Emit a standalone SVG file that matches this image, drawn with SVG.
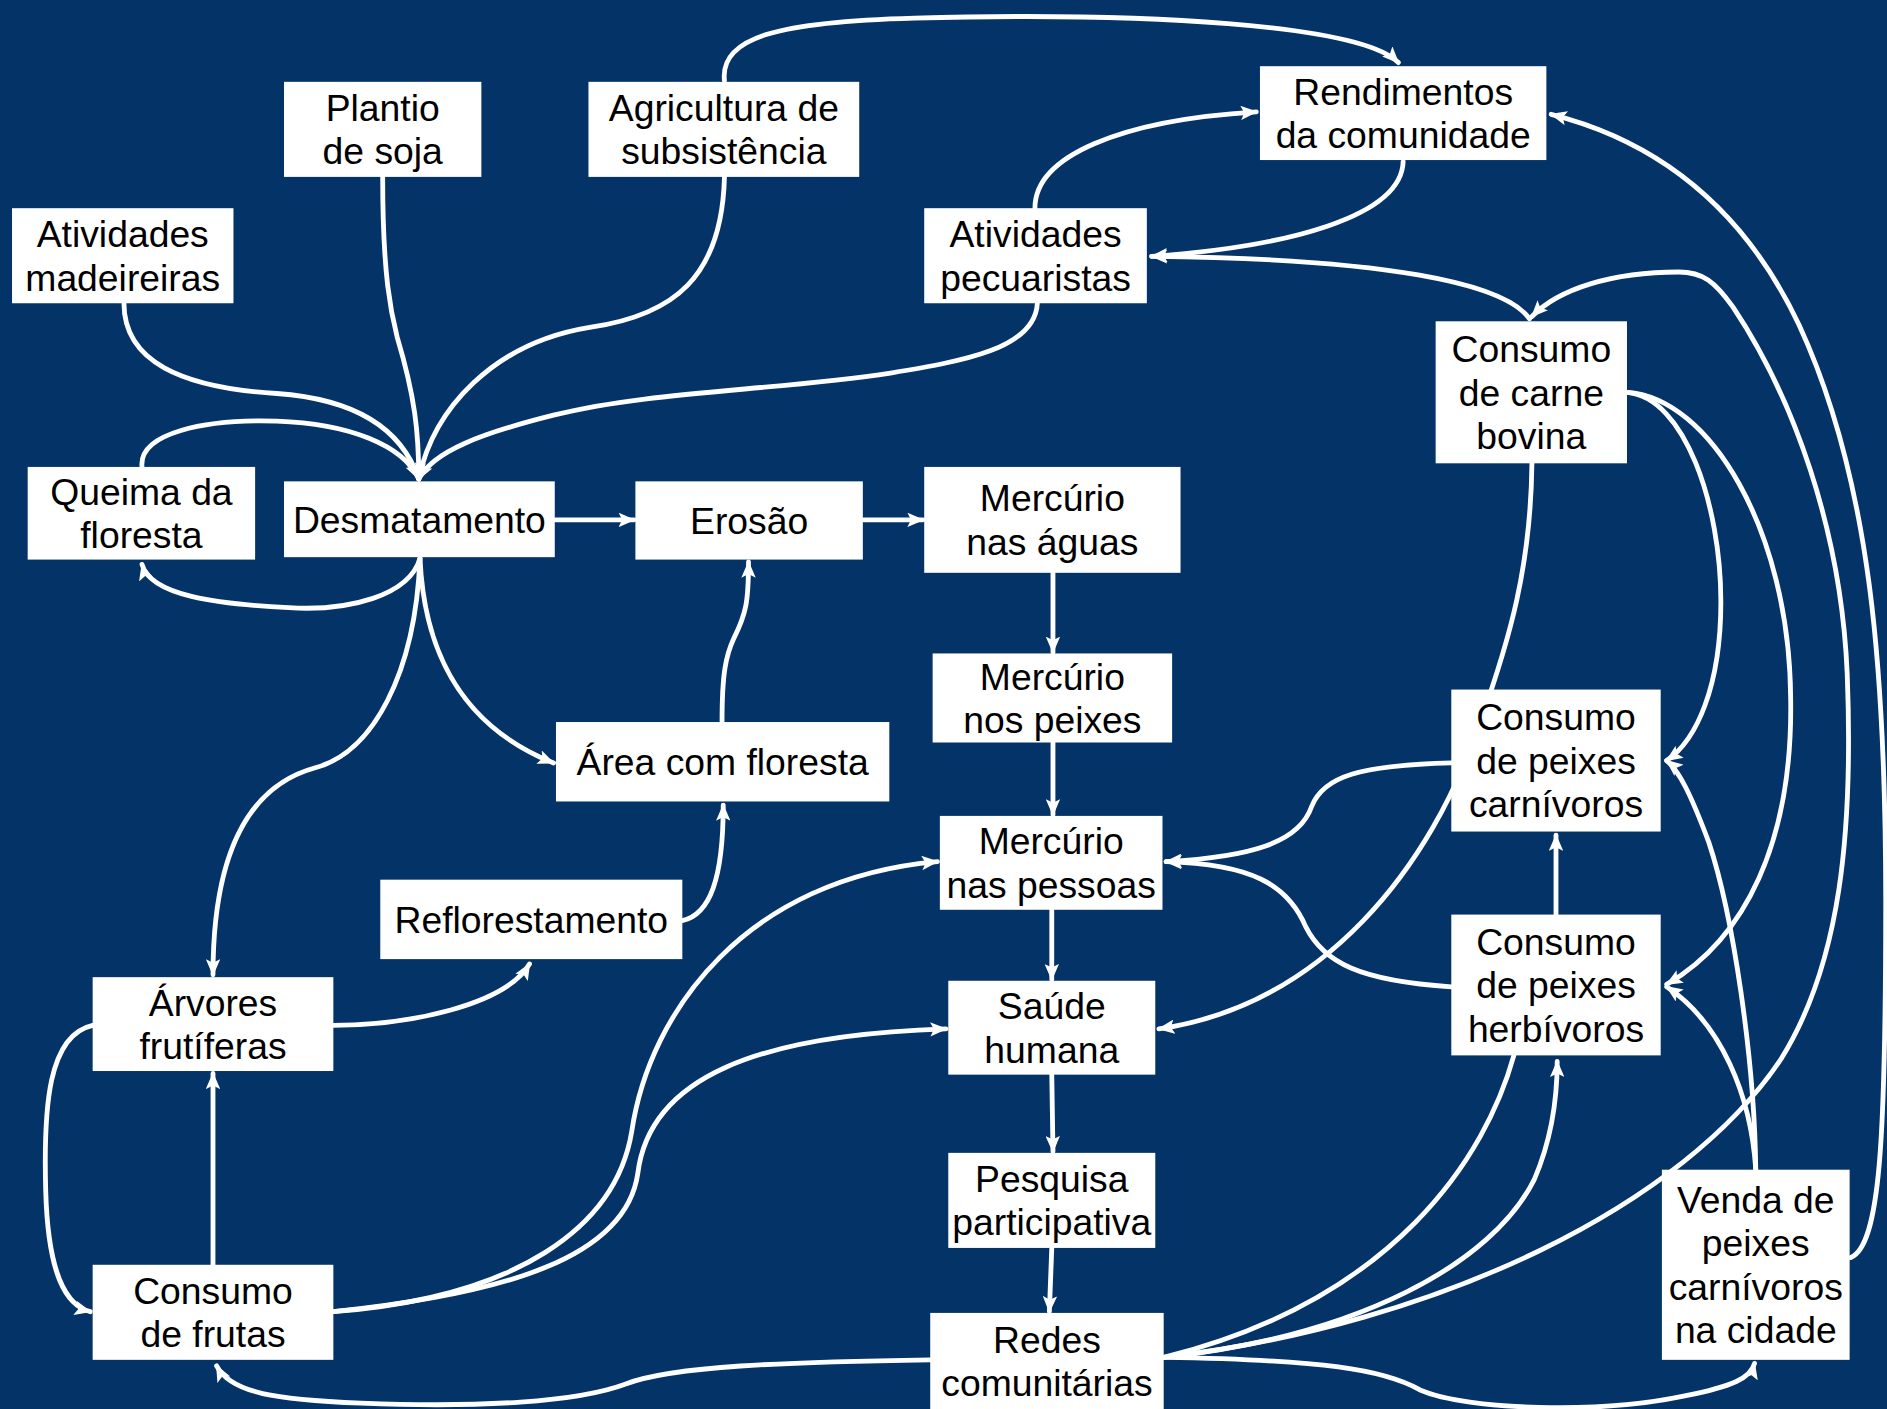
<svg xmlns="http://www.w3.org/2000/svg" width="1887" height="1409" viewBox="0 0 1887 1409">
<defs>
<style>
.box{fill:#ffffff}
.lbl{font-family:"Liberation Sans",Arial,sans-serif;font-size:31px;fill:#000000;text-anchor:middle}
.c{fill:none;stroke:#ffffff;stroke-width:4;stroke-linecap:round}
.a{marker-end:url(#ah)}
</style>
<marker id="ah" viewBox="0 0 14 12" refX="13" refY="6" markerWidth="14" markerHeight="12" markerUnits="userSpaceOnUse" orient="auto">
<path d="M0,0 L14,6 L0,12 L3,6 z" fill="#ffffff"/>
</marker>
</defs>
<rect width="1887" height="1409" fill="#043368"/>
<g transform="scale(1.2034)">
<g id="connectors">
<path class="c a" d="M103,252 C103,300 150,322 230,327 C300,332 335,360 348,398"/>
<path class="c a" d="M318,147 C318,230 325,260 330,280 C345,330 348,360 348,398"/>
<path class="c a" d="M602,147 C600,230 560,262 490,272 C410,285 360,340 348,398"/>
<path class="c a" d="M862,252 C860,290 800,300 740,310 C640,325 540,325 460,345 C400,360 360,375 348,398"/>
<path class="c a" d="M118,388 C115,360 170,348 230,350 C290,352 335,370 348,398"/>
<path class="c a" d="M349,464 C340,495 290,508 240,505 C180,502 125,495 118,469"/>
<path class="c a" d="M461,432 L527,432"/>
<path class="c a" d="M717,432 L767,432"/>
<path class="c a" d="M875,476 L875,542"/>
<path class="c a" d="M875,617 L875,677"/>
<path class="c a" d="M874,756 L874,814"/>
<path class="c a" d="M874,893 L875,957"/>
<path class="c a" d="M874,1037 L872,1090"/>
<path class="c a" d="M349,464 C352,530 375,600 460,634"/>
<path class="c a" d="M349,464 C345,560 310,625 262,638 C200,655 177,720 177,810"/>
<path class="c a" d="M600,600 C600,560 603,545 610,530 C620,510 622,500 622,467"/>
<path class="c a" d="M567,765 C590,760 601,730 601,669"/>
<path class="c a" d="M277,852 C340,852 420,835 440,801"/>
<path class="c a" d="M77,852 C40,860 36,920 38,990 C40,1060 55,1085 75,1090"/>
<path class="c a" d="M177,1051 L177,892"/>
<path class="c a" d="M277,1090 C430,1078 512,1020 525,940 C540,840 620,730 779,716"/>
<path class="c a" d="M277,1090 C420,1075 520,1045 530,975 C540,895 630,860 786,855"/>
<path class="c a" d="M773,1130 C650,1132 560,1135 520,1150 C480,1165 400,1170 300,1166 C230,1163 192,1158 180,1135"/>
<path class="c a" d="M967,1128 C1100,1130 1150,1138 1180,1155 C1220,1172 1330,1175 1400,1160 C1440,1152 1455,1145 1458,1133"/>
<path class="c a" d="M967,1128 C1130,1110 1240,1050 1275,980 C1290,945 1294,910 1294,882"/>
<path class="c" d="M1258,877 C1235,960 1160,1080 967,1128"/>
<path class="c a" d="M967,1128 C1200,1100 1400,1000 1480,880 C1530,800 1540,690 1535,560 C1530,440 1490,330 1440,255 C1425,234 1415,226 1395,226 C1340,226 1295,240 1273,263"/>
<path class="c a" d="M1538,1045 C1562,1035 1567,950 1567,750 C1567,560 1555,400 1495,270 C1450,175 1380,118 1289,95"/>
<path class="c a" d="M860,173 C860,130 930,100 1044,93"/>
<path class="c a" d="M1166,134 C1165,180 1070,205 957,213"/>
<path class="c a" d="M1271,265 C1250,235 1150,215 957,213"/>
<path class="c a" d="M602,67 C598,30 650,18 760,15 C950,10 1130,20 1162,52"/>
<path class="c a" d="M1352,326 C1400,330 1430,420 1430,500 C1430,570 1410,615 1385,632"/>
<path class="c a" d="M1352,326 C1420,330 1487,440 1488,580 C1490,700 1450,780 1385,818"/>
<path class="c a" d="M1459,972 C1458,880 1440,760 1420,700 C1405,660 1395,640 1385,632"/>
<path class="c a" d="M1459,972 C1455,910 1430,850 1385,820"/>
<path class="c a" d="M1206,634 C1130,636 1100,645 1090,670 C1080,700 1040,712 969,716"/>
<path class="c a" d="M1206,820 C1130,815 1100,800 1085,770 C1070,735 1040,718 969,716"/>
<path class="c a" d="M1293,760 L1293,694"/>
<path class="c a" d="M1273,385 C1272,470 1255,530 1230,600 C1190,720 1100,835 963,855"/>
</g>
<g id="n-soja"><rect class="box" x="236" y="68" width="164" height="79"/><text class="lbl"><tspan x="318" y="100.5">Plantio</tspan><tspan x="318" y="136.5">de soja</tspan></text></g>
<g id="n-agric"><rect class="box" x="489" y="68" width="225" height="79"/><text class="lbl"><tspan x="601.5" y="100.5">Agricultura de</tspan><tspan x="601.5" y="136.5">subsistência</tspan></text></g>
<g id="n-rend"><rect class="box" x="1047" y="55" width="238" height="78"/><text class="lbl"><tspan x="1166" y="87">Rendimentos</tspan><tspan x="1166" y="123">da comunidade</tspan></text></g>
<g id="n-mad"><rect class="box" x="10" y="173" width="184" height="79"/><text class="lbl"><tspan x="102" y="205.5">Atividades</tspan><tspan x="102" y="241.5">madeireiras</tspan></text></g>
<g id="n-pec"><rect class="box" x="768" y="173" width="185" height="79"/><text class="lbl"><tspan x="860.5" y="205.5">Atividades</tspan><tspan x="860.5" y="241.5">pecuaristas</tspan></text></g>
<g id="n-carne"><rect class="box" x="1193" y="267" width="159" height="118"/><text class="lbl"><tspan x="1272.5" y="301">Consumo</tspan><tspan x="1272.5" y="337">de carne</tspan><tspan x="1272.5" y="373">bovina</tspan></text></g>
<g id="n-queima"><rect class="box" x="23" y="388" width="189" height="77"/><text class="lbl"><tspan x="117.5" y="419.5">Queima da</tspan><tspan x="117.5" y="455.5">floresta</tspan></text></g>
<g id="n-desm"><rect class="box" x="236" y="400" width="225" height="63"/><text class="lbl" x="348.5" y="442.5">Desmatamento</text></g>
<g id="n-erosao"><rect class="box" x="528" y="400" width="189" height="65"/><text class="lbl" x="622.5" y="443.5">Erosão</text></g>
<g id="n-hg-aguas"><rect class="box" x="768" y="388" width="213" height="88"/><text class="lbl"><tspan x="874.5" y="425">Mercúrio</tspan><tspan x="874.5" y="461">nas águas</tspan></text></g>
<g id="n-hg-peixes"><rect class="box" x="775" y="543" width="199" height="74"/><text class="lbl"><tspan x="874.5" y="573">Mercúrio</tspan><tspan x="874.5" y="609">nos peixes</tspan></text></g>
<g id="n-area"><rect class="box" x="462" y="600" width="277" height="66"/><text class="lbl" x="600.5" y="644">Área com floresta</text></g>
<g id="n-carniv"><rect class="box" x="1206" y="573" width="174" height="118"/><text class="lbl"><tspan x="1293" y="607">Consumo</tspan><tspan x="1293" y="643">de peixes</tspan><tspan x="1293" y="679">carnívoros</tspan></text></g>
<g id="n-hg-pessoas"><rect class="box" x="781" y="678" width="185" height="78"/><text class="lbl"><tspan x="873.5" y="710">Mercúrio</tspan><tspan x="873.5" y="746">nas pessoas</tspan></text></g>
<g id="n-reflor"><rect class="box" x="316" y="731" width="251" height="66"/><text class="lbl" x="441.5" y="775">Reflorestamento</text></g>
<g id="n-herbiv"><rect class="box" x="1206" y="760" width="174" height="117"/><text class="lbl"><tspan x="1293" y="793.5">Consumo</tspan><tspan x="1293" y="829.5">de peixes</tspan><tspan x="1293" y="865.5">herbívoros</tspan></text></g>
<g id="n-arvores"><rect class="box" x="77" y="812" width="200" height="78"/><text class="lbl"><tspan x="177" y="844">Árvores</tspan><tspan x="177" y="880">frutíferas</tspan></text></g>
<g id="n-saude"><rect class="box" x="788" y="815" width="172" height="78"/><text class="lbl"><tspan x="874" y="847">Saúde</tspan><tspan x="874" y="883">humana</tspan></text></g>
<g id="n-pesquisa"><rect class="box" x="788" y="958" width="172" height="79"/><text class="lbl"><tspan x="874" y="990.5">Pesquisa</tspan><tspan x="874" y="1026.5">participativa</tspan></text></g>
<g id="n-venda"><rect class="box" x="1381" y="972" width="156" height="158"/><text class="lbl"><tspan x="1459" y="1008">Venda de</tspan><tspan x="1459" y="1044">peixes</tspan><tspan x="1459" y="1080">carnívoros</tspan><tspan x="1459" y="1116">na cidade</tspan></text></g>
<g id="n-frutas"><rect class="box" x="77" y="1051" width="200" height="79"/><text class="lbl"><tspan x="177" y="1083.5">Consumo</tspan><tspan x="177" y="1119.5">de frutas</tspan></text></g>
<g id="n-redes"><rect class="box" x="773" y="1091" width="194" height="90"/><text class="lbl"><tspan x="870" y="1124">Redes</tspan><tspan x="870" y="1160">comunitárias</tspan></text></g>
</g>
</svg>
